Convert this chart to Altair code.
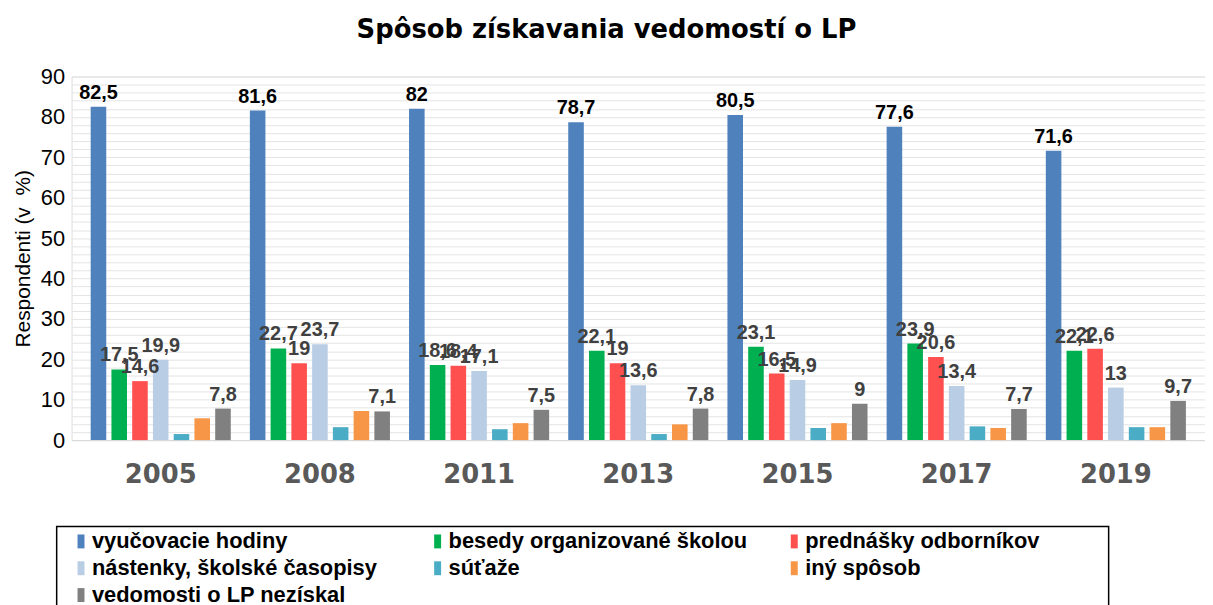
import altair as alt
import pandas as pd

years = ["2005", "2008", "2011", "2013", "2015", "2017", "2019"]
series = [
    "vyučovacie hodiny",
    "besedy organizované školou",
    "prednášky odborníkov",
    "nástenky, školské časopisy",
    "súťaže",
    "iný spôsob",
    "vedomosti o LP nezískal",
]
colors = ["#4F81BD", "#00B050", "#FF5050", "#B9CDE5", "#4BACC6", "#F79646", "#808080"]

vyucovacie = [82.5, 81.6, 82, 78.7, 80.5, 77.6, 71.6]
besedy = [17.5, 22.7, 18.6, 22.1, 23.1, 23.9, 22.1]
prednasky = [14.6, 19, 18.4, 19, 16.5, 20.6, 22.6]
nastenky = [19.9, 23.7, 17.1, 13.6, 14.9, 13.4, 13]
sutaze = [1.5, 3.2, 2.7, 1.5, 3.0, 3.4, 3.2]
iny = [5.4, 7.2, 4.2, 3.9, 4.2, 3.0, 3.2]
neziskal = [7.8, 7.1, 7.5, 7.8, 9, 7.7, 9.7]
values = [vyucovacie, besedy, prednasky, nastenky, sutaze, iny, neziskal]
labeled = [0, 1, 2, 3, 6]


def fmt(v):
    s = ("%g" % v)
    return s.replace(".", ",")


rows = []
for si, (name, vals) in enumerate(zip(series, values)):
    for yr, v in zip(years, vals):
        rows.append({
            "rok": yr,
            "sposob": name,
            "poradie": si,
            "hodnota": v,
            "popis": fmt(v) if si in labeled else "",
        })
df = pd.DataFrame(rows)

x_enc = alt.X(
    "rok:N",
    sort=years,
    scale=alt.Scale(paddingInner=0.12, paddingOuter=0.12),
    axis=alt.Axis(
        title=None, labelAngle=0, labelFontSize=26, labelFontWeight="bold",
        labelColor="#595959", labelFont="DejaVu Sans", labelPadding=22,
        ticks=False, domainColor="#D9D9D9", domainWidth=1, grid=False,
    ),
)
xo_enc = alt.XOffset("sposob:N", sort=series, scale=alt.Scale(paddingInner=0.25, paddingOuter=0.0))
y_enc = alt.Y(
    "hodnota:Q",
    scale=alt.Scale(domain=[0, 90], nice=False),
    axis=alt.Axis(
        values=list(range(0, 91, 2)),
        labelExpr="datum.value % 10 == 0 ? datum.label : ''",
        grid=True, gridColor="#E4E4E4", gridWidth=1,
        domain=False, ticks=False,
        labelFontSize=22, labelColor="black", labelFont="Liberation Sans",
        labelPadding=7,
        title="Respondenti (v\u00a0\u00a0%)", titleFontSize=21, titleFontWeight="normal",
        titleFont="Liberation Sans", titleColor="black", titlePadding=7,
    ),
)

base = alt.Chart(df)

bars = base.mark_bar().encode(
    x=x_enc,
    xOffset=xo_enc,
    y=y_enc,
    color=alt.Color(
        "sposob:N",
        sort=series,
        scale=alt.Scale(domain=series, range=colors),
        legend=alt.Legend(
            title=None, orient="none", legendX=-1.5, legendY=457, columns=3,
            direction="horizontal",
            symbolType="M-0.5,-1L0.5,-1L0.5,1L-0.5,1Z", symbolSize=196,
            symbolStrokeWidth=0, symbolOpacity=1,
            labelFont="Liberation Sans", labelFontSize=22, labelFontWeight="bold",
            labelColor="black", labelLimit=600, labelOffset=0,
            columnPadding=36, rowPadding=5, gridAlign="all",
        ),
    ),
)

texts = base.mark_text(
    font="Liberation Sans", fontSize=20, fontWeight="bold", baseline="bottom", dy=-4
).encode(
    x=x_enc,
    xOffset=xo_enc,
    y=y_enc,
    text="popis:N",
    color=alt.condition(alt.datum.poradie == 0, alt.value("black"), alt.value("#404040")),
)

box = alt.Chart(pd.DataFrame({"a": [0]})).mark_rect(
    fill=None, stroke="black", strokeWidth=1.5, clip=False
).encode(
    x=alt.value(-15), x2=alt.value(1044), y=alt.value(453), y2=alt.value(600)
)

chart = alt.layer(bars, texts, box).properties(
    width=1141,
    height=366,
    autosize=alt.AutoSizeParams(type="none"),
    padding={"left": 64, "top": 67, "right": 0, "bottom": 164},
    title=alt.TitleParams(
        "Spôsob získavania vedomostí o LP", font="DejaVu Sans", fontSize=26,
        fontWeight="bold", color="black", anchor="middle", dx=-32, offset=23,
    ),
).configure_view(stroke=None).configure(background="white")

chart.save("out.html", embed_options={"renderer": "svg", "actions": False})
